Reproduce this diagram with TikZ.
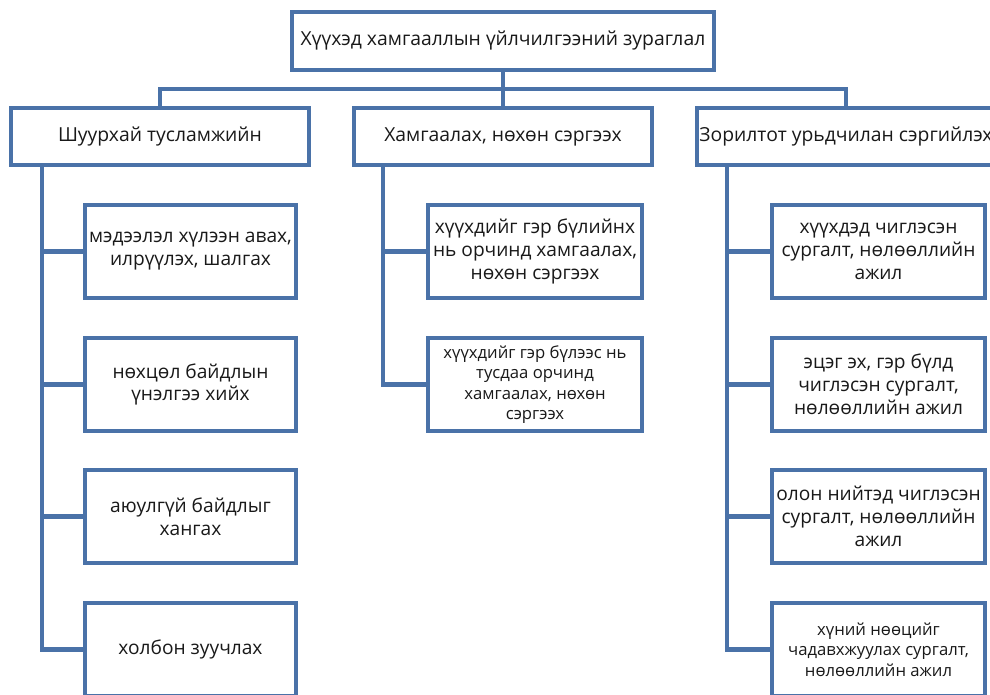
\documentclass[tikz,border=0pt]{standalone}
\usepackage{fontspec}
\setmainfont{Open Sans}
\definecolor{orgblue}{HTML}{4A72A8}

\begin{document}
\begin{tikzpicture}[x=0.02cm,y=-0.02cm,
	box/.style={draw=orgblue, line width=2.3pt, fill=white, align=center, inner sep=1pt, outer sep=0pt, text=black!90, font=\fontsize{10.9}{13}\selectfont},
	head/.style={box, minimum width=5.96cm, minimum height=1.14cm, font=\fontsize{11}{13}\selectfont},
	leaf/.style={box, minimum height=1.86cm},
	small/.style={font=\fontsize{9.5}{11.6}\selectfont},
	link/.style={draw=orgblue, line width=2.3pt}]
	
	\useasboundingbox (0,0) rectangle (990,695);
	
	\node[box, minimum width=8.46cm, minimum height=1.16cm, font=\fontsize{11}{13}\selectfont] (top) at (503,41) {Хүүхэд хамгааллын үйлчилгээний зураглал};
	
	\node[head] (emerg) at (160,136.5) {Шуурхай тусламжийн};
	\node[head] (protect) at (503,136.5) {Хамгаалах, нөхөн сэргээх};
	\node[head] (prevent) at (846,136.5) {Зорилтот урьдчилан сэргийлэх};
	
	\node[leaf, minimum width=4.22cm] (e1) at (190.5,251.5) {мэдээлэл хүлээн авах,\\ илрүүлэх, шалгах};
	\node[leaf, minimum width=4.22cm] (e2) at (190.5,384.5) {нөхцөл байдлын\\ үнэлгээ хийх};
	\node[leaf, minimum width=4.22cm] (e3) at (190.5,516.5) {аюулгүй байдлыг\\ хангах};
	\node[leaf, minimum width=4.22cm] (e4) at (190.5,649.5) {холбон зуучлах};
	
	\node[leaf, minimum width=4.28cm] (p1) at (535,251.5) {хүүхдийг гэр бүлийнх\\ нь орчинд хамгаалах,\\ нөхөн сэргээх};
	\node[leaf, minimum width=4.28cm, small] (p2) at (535,384.5) {хүүхдийг гэр бүлээс нь\\ тусдаа орчинд\\ хамгаалах, нөхөн\\ сэргээх};
	
	\node[leaf, minimum width=4.26cm] (r1) at (878.5,251.5) {хүүхдэд чиглэсэн\\ сургалт, нөлөөллийн\\ ажил};
	\node[leaf, minimum width=4.26cm] (r2) at (878.5,384.5) {эцэг эх, гэр бүлд\\ чиглэсэн сургалт,\\ нөлөөллийн ажил};
	\node[leaf, minimum width=4.26cm] (r3) at (878.5,516.5) {олон нийтэд чиглэсэн\\ сургалт, нөлөөллийн\\ ажил};
	\node[leaf, minimum width=4.26cm, small] (r4) at (878.5,649.5) {хүний нөөцийг\\ чадавхжуулах сургалт,\\ нөлөөллийн ажил};
	
	\draw[link] (top.south) -- (protect.north);
	\draw[link] (top.south) -- ++(0,19) -| (emerg.north);
	\draw[link] (top.south) -- ++(0,19) -| (prevent.north);
	
	\foreach \c in {e1,e2,e3,e4}
		\draw[link] (emerg.south west) ++(31,0) |- (\c.west);
	\foreach \c in {p1,p2}
		\draw[link] (protect.south west) ++(29,0) |- (\c.west);
	\foreach \c in {r1,r2,r3,r4}
		\draw[link] (prevent.south west) ++(30,0) |- (\c.west);
\end{tikzpicture}
\end{document}
